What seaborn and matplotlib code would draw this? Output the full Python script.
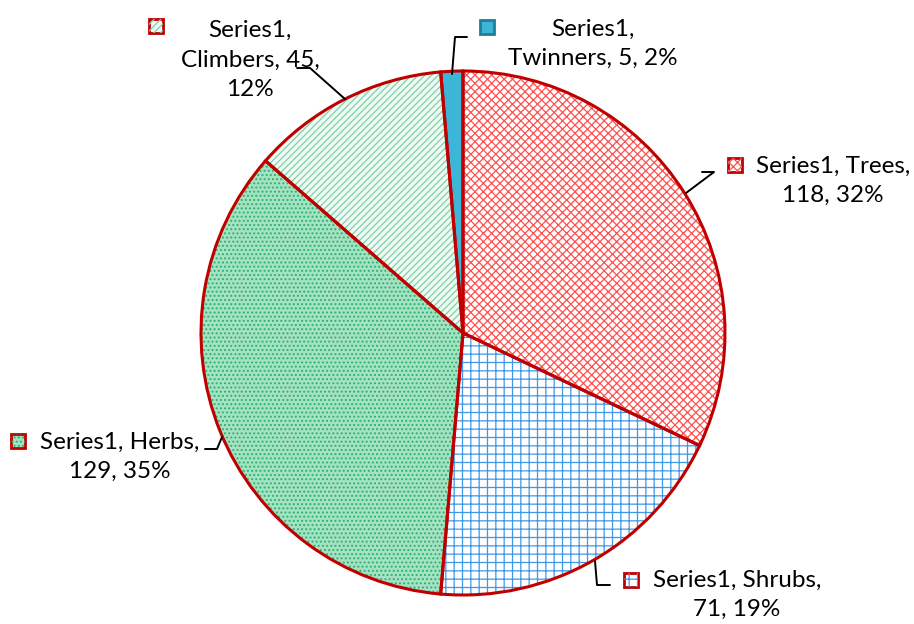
import matplotlib
matplotlib.use("Agg")
import matplotlib.pyplot as plt
from matplotlib.patches import Rectangle
import seaborn as sns

# data
categories = ["Trees", "Shrubs", "Herbs", "Climbers", "Twinners"]
values = [118, 71, 129, 45, 5]
percents = [32, 19, 35, 12, 2]
series_name = "Series1"

# look of each slice
face_colors = ["#ffffff", "#ffffff", "#a3e3c2", "#eefaf3", "#3db5d6"]
hatch_colors = ["#ff5050", "#3f98e6", "#2fae70", "#7fd1a7", "#3db5d6"]
hatches = ["xxxx", "++", "....", "/////", ""]
edge_color = "#c00000"

sns.set_theme(style="white")
plt.rcParams["font.family"] = ["Lato", "DejaVu Sans"]
plt.rcParams["hatch.linewidth"] = 0.9

W, H = 914, 624
CX, CY, R = 463, 333, 262

def px(x, y):
    # picture pixel -> data units (pie radius = 1)
    return (x - CX) / R, (CY - y) / R

fig = plt.figure(figsize=(W / 100, H / 100), dpi=100)
ax = fig.add_axes([0, 0, 1, 1])

# pass 1: fill + hatch
wedges, _ = ax.pie(values, startangle=90, counterclock=False, radius=1,
                   colors=face_colors, wedgeprops=dict(linewidth=0))
for w, h, hc in zip(wedges, hatches, hatch_colors):
    w.set_hatch(h)
    w.set_edgecolor(hc)

# pass 2: outlines
ax.pie(values, startangle=90, counterclock=False, radius=1,
       colors=["none"] * len(values),
       wedgeprops=dict(linewidth=2.2, edgecolor=edge_color, fill=False))

# labels
texts = {
    "Trees": f"{series_name}, Trees,\n{values[0]}, {percents[0]}%",
    "Shrubs": f"{series_name}, Shrubs,\n{values[1]}, {percents[1]}%",
    "Herbs": f"{series_name}, Herbs,\n{values[2]}, {percents[2]}%",
    "Climbers": f"{series_name},\nClimbers, {values[3]},\n{percents[3]}%",
    "Twinners": f"{series_name},\nTwinners, {values[4]}, {percents[4]}%",
}
text_pos = {"Trees": (833, 181), "Shrubs": (737, 595), "Herbs": (120, 457),
            "Climbers": (250, 60), "Twinners": (593, 44)}
marker_pos = {"Trees": (735, 165), "Shrubs": (631, 580), "Herbs": (18, 441),
              "Climbers": (156, 26), "Twinners": (487, 27)}
leaders = {
    "Trees": [(686, 193), (714, 172), (702, 172)],
    "Shrubs": [(595, 561), (597, 585), (610, 585)],
    "Herbs": [(222, 437), (217, 449), (205, 449)],
    "Climbers": [(345, 99), (310, 68), (297, 68)],
    "Twinners": [(452, 74), (455, 37), (467, 37)],
}

for i, cat in enumerate(categories):
    tx, ty = px(*text_pos[cat])
    ax.text(tx, ty, texts[cat], ha="center", va="center", fontsize=17.5,
            linespacing=1.5, color="black", multialignment="center")
    pts = [px(*p) for p in leaders[cat]]
    ax.plot([p[0] for p in pts], [p[1] for p in pts], color="black", lw=1.4)
    mx, my = px(*marker_pos[cat])
    s = 14 / R
    ec = "#1f7f99" if cat == "Twinners" else edge_color
    ax.add_patch(Rectangle((mx - s / 2, my - s / 2), s, s,
                           facecolor=face_colors[i], edgecolor=ec, lw=2))
    if hatches[i]:
        ax.add_patch(Rectangle((mx - s / 2, my - s / 2), s, s, fill=False,
                               hatch=hatches[i], edgecolor=hatch_colors[i], lw=0))

ax.set_xlim(-CX / R, (W - CX) / R)
ax.set_ylim((CY - H) / R, CY / R)
ax.set_aspect("equal")
ax.axis("off")

fig.savefig("out.png", dpi=100, facecolor="white")
